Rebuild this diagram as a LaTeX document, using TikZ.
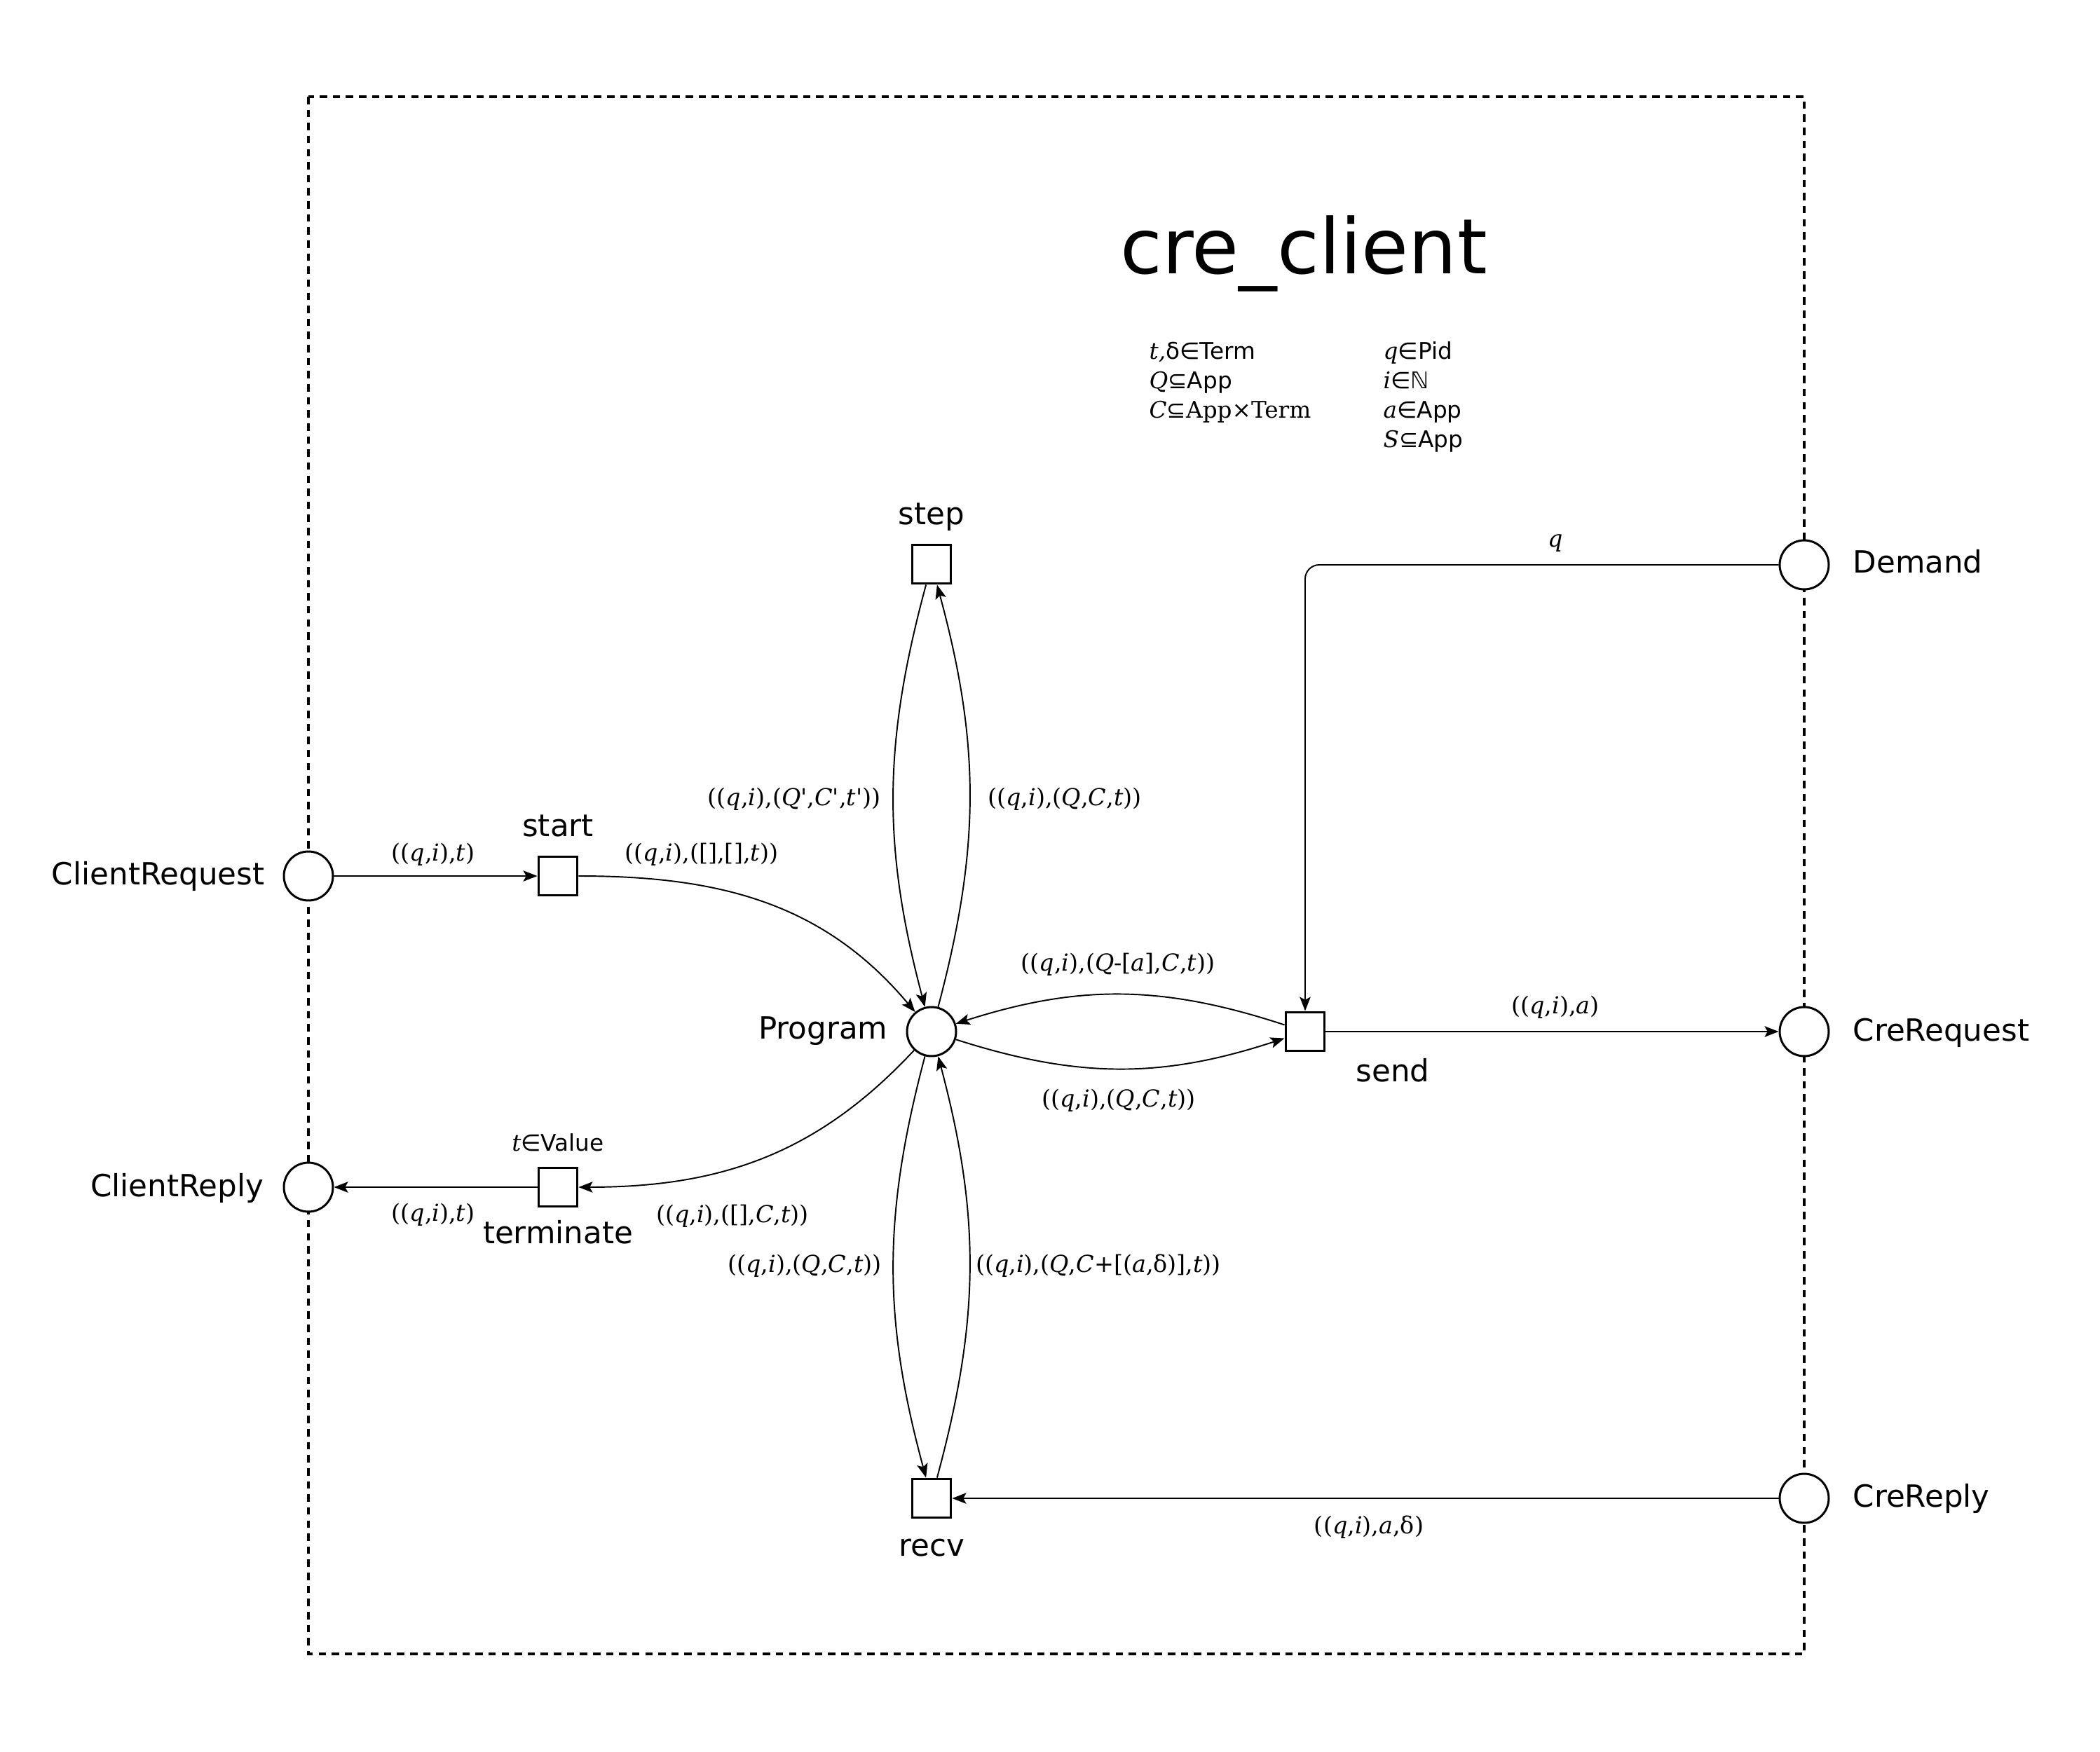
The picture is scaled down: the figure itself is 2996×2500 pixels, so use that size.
\documentclass[tikz,border=0pt]{standalone}
\usepackage{fontspec}
\setmainfont{DejaVu Sans}
\newfontfamily\serif[Ligatures=TeXOff]{DejaVu Serif}
\usetikzlibrary{arrows.meta}
\newcommand\vi[1]{{\serif\itshape #1}}
\begin{document}
\begin{tikzpicture}[x=0.01cm,y=-0.01cm,
  place/.style={circle,draw,line width=0.85pt,minimum size=19.9pt,inner sep=0pt,fill=white},
  trans/.style={rectangle,draw,line width=0.85pt,minimum size=15.9pt,inner sep=0pt,fill=white},
  arc/.style={line width=0.55pt,-{Stealth[length=5.7pt,width=4.4pt,inset=1.2pt]}},
  lab/.style={font=\fontsize{9.5}{11}\serif,inner sep=0pt},
  nm/.style={font=\fontsize{12.4}{15}\selectfont,inner sep=0pt},
  decl/.style={font=\fontsize{9.3}{11}\selectfont,inner sep=0pt,anchor=base west},
]
\useasboundingbox (0,0) rectangle (2996,2500);
\draw[line width=1.3pt,dash pattern=on 3pt off 2.3pt] (440,138) rectangle (2574,2360);

% title and declarations
\node[font=\fontsize{31}{37}\selectfont,anchor=base,inner sep=0pt] (title) at (1860,390) {cre\_client};
\node[decl] (d1) at (1639,512) {\vi{t,}δ∈Term};
\node[decl] (d2) at (1639,554) {\vi{Q}⊆App};
\node[decl] (d3) at (1639,596) {\vi{C}⊆{\serif App×Term}};
\node[decl] (d4) at (1973,512) {\vi{q}∈Pid};
\node[decl] (d5) at (1973,554) {\vi{i}∈ℕ};
\node[decl] (d6) at (1973,596) {\vi{a}∈App};
\node[decl] (d7) at (1973,638) {\vi{S}⊆App};

% places
\node[place] (creq) at (440,1250) {};
\node[place] (crep) at (440,1694) {};
\node[place] (dem) at (2574,806) {};
\node[place] (cre) at (2574,1472) {};
\node[place] (crr) at (2574,2138) {};
\node[place] (prog) at (1329,1472) {};
% transitions
\node[trans] (start) at (796,1250) {};
\node[trans] (term) at (796,1694) {};
\node[trans] (step) at (1329,805) {};
\node[trans] (recv) at (1329,2138) {};
\node[trans] (send) at (1862,1472) {};

% names
\node[nm,anchor=base east] (lcreq) at (378,1262) {ClientRequest};
\node[nm,anchor=base east] (lcrep) at (377,1707) {ClientReply};
\node[nm,anchor=base west] (ldem) at (2643,817) {Demand};
\node[nm,anchor=base west] (lcre) at (2643,1485) {CreRequest};
\node[nm,anchor=base west] (lcrr) at (2643,2150) {CreReply};
\node[nm,anchor=base east] (lprog) at (1267,1482) {Program};
\node[nm,anchor=base] (lstart) at (796,1193) {start};
\node[nm,anchor=base] (lterm) at (796,1774) {terminate};
\node[nm,anchor=base] (lstep) at (1329,748) {step};
\node[nm,anchor=base] (lrecv) at (1329,2220) {recv};
\node[nm,anchor=base] (lsend) at (1987,1543) {send};
\node[decl,anchor=base] (tval) at (796,1642) {\vi{t}∈Value};

% arcs
\draw[arc] (creq) -- (start);
\draw[arc] (start.east) to[out=0,in=130] (prog);
\draw[arc] (step) to[bend right=15] (prog);
\draw[arc] (prog) to[bend right=15] (step);
\draw[arc] (prog) to[bend right=15] (recv);
\draw[arc] (recv) to[bend right=15] (prog);
\draw[arc] (prog) to[bend right=18] (send);
\draw[arc] (send) to[bend right=18] (prog);
\draw[arc] (prog) to[out=227,in=0] (term.east);
\draw[arc] (term) -- (crep);
\draw[arc] (send) -- (cre);
\draw[arc] (crr) -- (recv);
\draw[arc,rounded corners=5.7pt] (dem) -| (send);

% arc labels
\node[lab] (l1) at (618,1219) {((\vi{q},\vi{i}),\vi{t})};
\node[lab] (l2) at (1001,1219) {((\vi{q},\vi{i}),([],[],\vi{t}))};
\node[lab] (l3) at (1133,1140) {((\vi{q},\vi{i}),(\vi{Q}',\vi{C}',\vi{t}'))};
\node[lab] (l4) at (1519,1140) {((\vi{q},\vi{i}),(\vi{Q},\vi{C},\vi{t}))};
\node[lab] (l5) at (1595,1376) {((\vi{q},\vi{i}),(\vi{Q}-[\vi{a}],\vi{C},\vi{t}))};
\node[lab] (l6) at (1596,1570) {((\vi{q},\vi{i}),(\vi{Q},\vi{C},\vi{t}))};
\node[lab] (l7) at (2219,1437) {((\vi{q},\vi{i}),\vi{a})};
\node[lab] (l8) at (2219,775) {\vi{q}};
\node[lab] (l9) at (1045,1735) {((\vi{q},\vi{i}),([],\vi{C},\vi{t}))};
\node[lab] (l10) at (618,1733) {((\vi{q},\vi{i}),\vi{t})};
\node[lab] (l11) at (1148,1806) {((\vi{q},\vi{i}),(\vi{Q},\vi{C},\vi{t}))};
\node[lab] (l12) at (1567,1806) {((\vi{q},\vi{i}),(\vi{Q},\vi{C}+[(\vi{a},δ)],\vi{t}))};
\node[lab] (l13) at (1953,2179) {((\vi{q},\vi{i}),\vi{a},δ)};
\end{tikzpicture}
\end{document}
